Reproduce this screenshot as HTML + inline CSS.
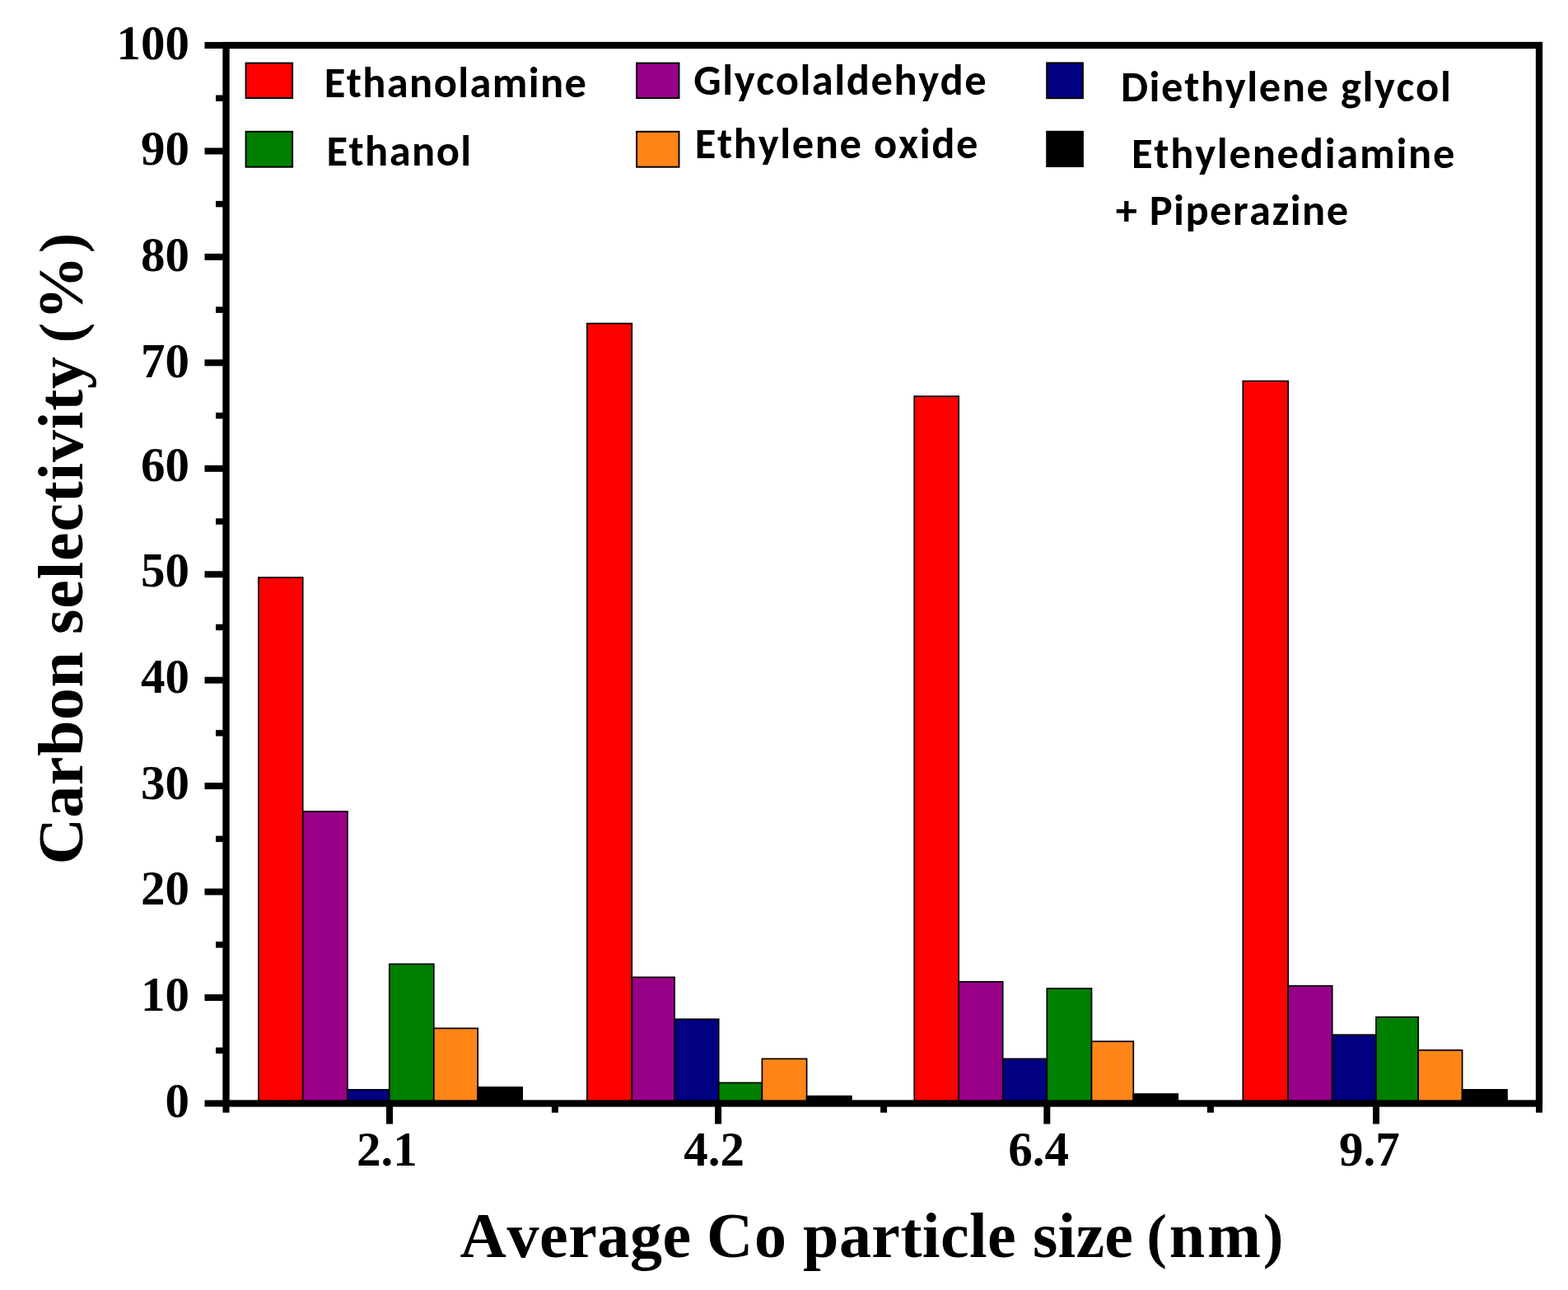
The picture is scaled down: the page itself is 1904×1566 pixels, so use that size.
<!DOCTYPE html>
<html><head><meta charset="utf-8"><title>Carbon selectivity vs Co particle size</title>
<style>html,body{margin:0;padding:0;background:#fff;}body{width:1904px;height:1566px;overflow:hidden;}svg{display:block;}</style>
</head><body>
<svg width="1904" height="1566" viewBox="0 0 1904 1566">
<rect width="1904" height="1566" fill="#fff"/>
<rect x="313.90" y="701.05" width="53.80" height="638.45" fill="#ff0000" stroke="#000" stroke-width="1.7"/>
<rect x="367.70" y="985.15" width="54.30" height="354.35" fill="#990088" stroke="#000" stroke-width="1.7"/>
<rect x="422.00" y="1322.85" width="50.80" height="16.65" fill="#000080" stroke="#000" stroke-width="1.7"/>
<rect x="472.80" y="1170.35" width="54.00" height="169.15" fill="#008000" stroke="#000" stroke-width="1.7"/>
<rect x="526.80" y="1248.35" width="53.40" height="91.15" fill="#ff8518" stroke="#000" stroke-width="1.7"/>
<rect x="580.20" y="1319.85" width="54.00" height="19.65" fill="#000000" stroke="#000" stroke-width="1.7"/>
<rect x="712.90" y="392.65" width="54.40" height="946.85" fill="#ff0000" stroke="#000" stroke-width="1.7"/>
<rect x="767.30" y="1186.35" width="51.80" height="153.15" fill="#990088" stroke="#000" stroke-width="1.7"/>
<rect x="819.10" y="1237.25" width="53.60" height="102.25" fill="#000080" stroke="#000" stroke-width="1.7"/>
<rect x="872.70" y="1314.45" width="52.70" height="25.05" fill="#008000" stroke="#000" stroke-width="1.7"/>
<rect x="925.40" y="1285.35" width="54.20" height="54.15" fill="#ff8518" stroke="#000" stroke-width="1.7"/>
<rect x="979.60" y="1330.65" width="54.30" height="8.85" fill="#000000" stroke="#000" stroke-width="1.7"/>
<rect x="1110.20" y="481.05" width="54.00" height="858.45" fill="#ff0000" stroke="#000" stroke-width="1.7"/>
<rect x="1164.20" y="1191.85" width="53.50" height="147.65" fill="#990088" stroke="#000" stroke-width="1.7"/>
<rect x="1217.70" y="1285.35" width="53.60" height="54.15" fill="#000080" stroke="#000" stroke-width="1.7"/>
<rect x="1271.30" y="1199.95" width="54.20" height="139.55" fill="#008000" stroke="#000" stroke-width="1.7"/>
<rect x="1325.50" y="1264.25" width="50.80" height="75.25" fill="#ff8518" stroke="#000" stroke-width="1.7"/>
<rect x="1376.30" y="1328.05" width="54.00" height="11.45" fill="#000000" stroke="#000" stroke-width="1.7"/>
<rect x="1509.30" y="462.55" width="54.90" height="876.95" fill="#ff0000" stroke="#000" stroke-width="1.7"/>
<rect x="1564.20" y="1196.85" width="53.50" height="142.65" fill="#990088" stroke="#000" stroke-width="1.7"/>
<rect x="1617.70" y="1256.25" width="53.30" height="83.25" fill="#000080" stroke="#000" stroke-width="1.7"/>
<rect x="1671.00" y="1234.65" width="51.20" height="104.85" fill="#008000" stroke="#000" stroke-width="1.7"/>
<rect x="1722.20" y="1274.85" width="53.40" height="64.65" fill="#ff8518" stroke="#000" stroke-width="1.7"/>
<rect x="1775.60" y="1322.85" width="54.40" height="16.65" fill="#000000" stroke="#000" stroke-width="1.7"/>
<rect x="274.5" y="55.00" width="1594.5" height="1284.50" fill="none" stroke="#000" stroke-width="8.3"/>
<line x1="248.5" y1="1339.50" x2="274.5" y2="1339.50" stroke="#000" stroke-width="8"/>
<line x1="262" y1="1275.28" x2="274.5" y2="1275.28" stroke="#000" stroke-width="7.5"/>
<line x1="248.5" y1="1211.05" x2="274.5" y2="1211.05" stroke="#000" stroke-width="8"/>
<line x1="262" y1="1146.83" x2="274.5" y2="1146.83" stroke="#000" stroke-width="7.5"/>
<line x1="248.5" y1="1082.60" x2="274.5" y2="1082.60" stroke="#000" stroke-width="8"/>
<line x1="262" y1="1018.38" x2="274.5" y2="1018.38" stroke="#000" stroke-width="7.5"/>
<line x1="248.5" y1="954.15" x2="274.5" y2="954.15" stroke="#000" stroke-width="8"/>
<line x1="262" y1="889.92" x2="274.5" y2="889.92" stroke="#000" stroke-width="7.5"/>
<line x1="248.5" y1="825.70" x2="274.5" y2="825.70" stroke="#000" stroke-width="8"/>
<line x1="262" y1="761.48" x2="274.5" y2="761.48" stroke="#000" stroke-width="7.5"/>
<line x1="248.5" y1="697.25" x2="274.5" y2="697.25" stroke="#000" stroke-width="8"/>
<line x1="262" y1="633.02" x2="274.5" y2="633.02" stroke="#000" stroke-width="7.5"/>
<line x1="248.5" y1="568.80" x2="274.5" y2="568.80" stroke="#000" stroke-width="8"/>
<line x1="262" y1="504.57" x2="274.5" y2="504.57" stroke="#000" stroke-width="7.5"/>
<line x1="248.5" y1="440.35" x2="274.5" y2="440.35" stroke="#000" stroke-width="8"/>
<line x1="262" y1="376.12" x2="274.5" y2="376.12" stroke="#000" stroke-width="7.5"/>
<line x1="248.5" y1="311.90" x2="274.5" y2="311.90" stroke="#000" stroke-width="8"/>
<line x1="262" y1="247.67" x2="274.5" y2="247.67" stroke="#000" stroke-width="7.5"/>
<line x1="248.5" y1="183.45" x2="274.5" y2="183.45" stroke="#000" stroke-width="8"/>
<line x1="262" y1="119.22" x2="274.5" y2="119.22" stroke="#000" stroke-width="7.5"/>
<line x1="248.5" y1="55.00" x2="274.5" y2="55.00" stroke="#000" stroke-width="8"/>
<line x1="473.00" y1="1339.5" x2="473.00" y2="1364.5" stroke="#000" stroke-width="8"/>
<line x1="872.10" y1="1339.5" x2="872.10" y2="1364.5" stroke="#000" stroke-width="8"/>
<line x1="1271.30" y1="1339.5" x2="1271.30" y2="1364.5" stroke="#000" stroke-width="8"/>
<line x1="1671.00" y1="1339.5" x2="1671.00" y2="1364.5" stroke="#000" stroke-width="8"/>
<line x1="274.50" y1="1339.5" x2="274.50" y2="1350.7" stroke="#000" stroke-width="8"/>
<line x1="673.90" y1="1339.5" x2="673.90" y2="1350.7" stroke="#000" stroke-width="8"/>
<line x1="1073.10" y1="1339.5" x2="1073.10" y2="1350.7" stroke="#000" stroke-width="8"/>
<line x1="1469.90" y1="1339.5" x2="1469.90" y2="1350.7" stroke="#000" stroke-width="8"/>
<line x1="1869.00" y1="1339.5" x2="1869.00" y2="1350.7" stroke="#000" stroke-width="8"/>
<g font-family="'Liberation Serif', 'Times New Roman', serif" font-weight="bold" font-size="59" text-anchor="end" fill="#000">
<text x="230.0" y="1355.5">0</text>
<text x="230.0" y="1227.2">10</text>
<text x="230.0" y="1098.2">20</text>
<text x="230.0" y="969.5">30</text>
<text x="230.0" y="840.9">40</text>
<text x="230.0" y="711.6">50</text>
<text x="230.0" y="583.5">60</text>
<text x="230.0" y="457.7">70</text>
<text x="230.0" y="328.7">80</text>
<text x="230.0" y="200.2">90</text>
<text x="230.0" y="71.7">100</text>
</g>
<g font-family="'Liberation Serif', 'Times New Roman', serif" font-weight="bold" font-size="59" fill="#000">
<text x="433.0" y="1415.3">2.1</text>
<text x="830.2" y="1415.3">4.2</text>
<text x="1224.3" y="1415.3">6.4</text>
<text x="1626.0" y="1415.3">9.7</text>
</g>
<text x="558.5" y="1526" font-family="'Liberation Serif', 'Times New Roman', serif" font-weight="bold" font-size="78" textLength="280.6" lengthAdjust="spacing" style="font-kerning:none">Average</text>
<text x="858.0" y="1526" font-family="'Liberation Serif', 'Times New Roman', serif" font-weight="bold" font-size="78" textLength="97.0" lengthAdjust="spacing" style="font-kerning:none">Co</text>
<text x="975.1" y="1526" font-family="'Liberation Serif', 'Times New Roman', serif" font-weight="bold" font-size="78" textLength="258.6" lengthAdjust="spacing" style="font-kerning:none">particle</text>
<text x="1253.9" y="1526" font-family="'Liberation Serif', 'Times New Roman', serif" font-weight="bold" font-size="78" textLength="122.0" lengthAdjust="spacing" style="font-kerning:none">size</text>
<text x="1392.2" y="1526" font-family="'Liberation Serif', 'Times New Roman', serif" font-weight="bold" font-size="78" textLength="166.2" lengthAdjust="spacing" style="font-kerning:none"><tspan font-size="74" dy="-0.8">(</tspan><tspan font-size="78" dy="0.8">nm</tspan><tspan font-size="74" dy="-0.8">)</tspan></text>
<text transform="translate(99.6,1049.6) rotate(-90)" font-family="'Liberation Serif', 'Times New Roman', serif" font-weight="bold" font-size="78" textLength="258.4" lengthAdjust="spacing" style="font-kerning:none">Carbon</text>
<text transform="translate(99.6,769.9) rotate(-90)" font-family="'Liberation Serif', 'Times New Roman', serif" font-weight="bold" font-size="78" textLength="336.8" lengthAdjust="spacing" style="font-kerning:none">selectivity</text>
<text transform="translate(99.6,416.3) rotate(-90)" font-family="'Liberation Serif', 'Times New Roman', serif" font-weight="bold" font-size="78" textLength="133.6" lengthAdjust="spacing" style="font-kerning:none"><tspan font-size="73" dy="-0.8">(</tspan><tspan font-size="78" dy="0.8">%</tspan><tspan font-size="73" dy="-0.8">)</tspan></text>
<rect x="298.6" y="76.6" width="56.5" height="42.4" fill="#ff0000" stroke="#000" stroke-width="2"/>
<rect x="298.6" y="159.8" width="56.5" height="42.9" fill="#008000" stroke="#000" stroke-width="2"/>
<rect x="773.1" y="76.6" width="51.4" height="42.4" fill="#990088" stroke="#000" stroke-width="2"/>
<rect x="773.1" y="159.8" width="51.4" height="42.9" fill="#ff8518" stroke="#000" stroke-width="2"/>
<rect x="1271.2" y="76.4" width="43.7" height="42.8" fill="#000080" stroke="#000" stroke-width="2"/>
<rect x="1270.2" y="158.8" width="45.7" height="44.2" fill="#000000"/>
<g font-family="Carlito, Calibri, 'Liberation Sans', sans-serif" font-weight="bold" font-size="52.5" fill="#000">
<text x="393.8" y="117.5" textLength="318.2" lengthAdjust="spacing" style="font-kerning:none">Ethanolamine</text>
<text x="396.4" y="200.7" textLength="175.8" lengthAdjust="spacing" style="font-kerning:none">Ethanol</text>
<text x="842.3" y="115.2" textLength="355.4" lengthAdjust="spacing" style="font-kerning:none">Glycolaldehyde</text>
<text x="843.8" y="192.3" textLength="343.7" lengthAdjust="spacing" style="font-kerning:none">Ethylene oxide</text>
<text x="1360.9" y="122.7" textLength="400.9" lengthAdjust="spacing" style="font-kerning:none">Diethylene glycol</text>
<text x="1374.0" y="203.5" textLength="392.4" lengthAdjust="spacing" style="font-kerning:none">Ethylenediamine</text>
<text x="1354.7" y="273.0" textLength="282.5" lengthAdjust="spacing" style="font-kerning:none">+ Piperazine</text>
</g>
</svg>
</body></html>
